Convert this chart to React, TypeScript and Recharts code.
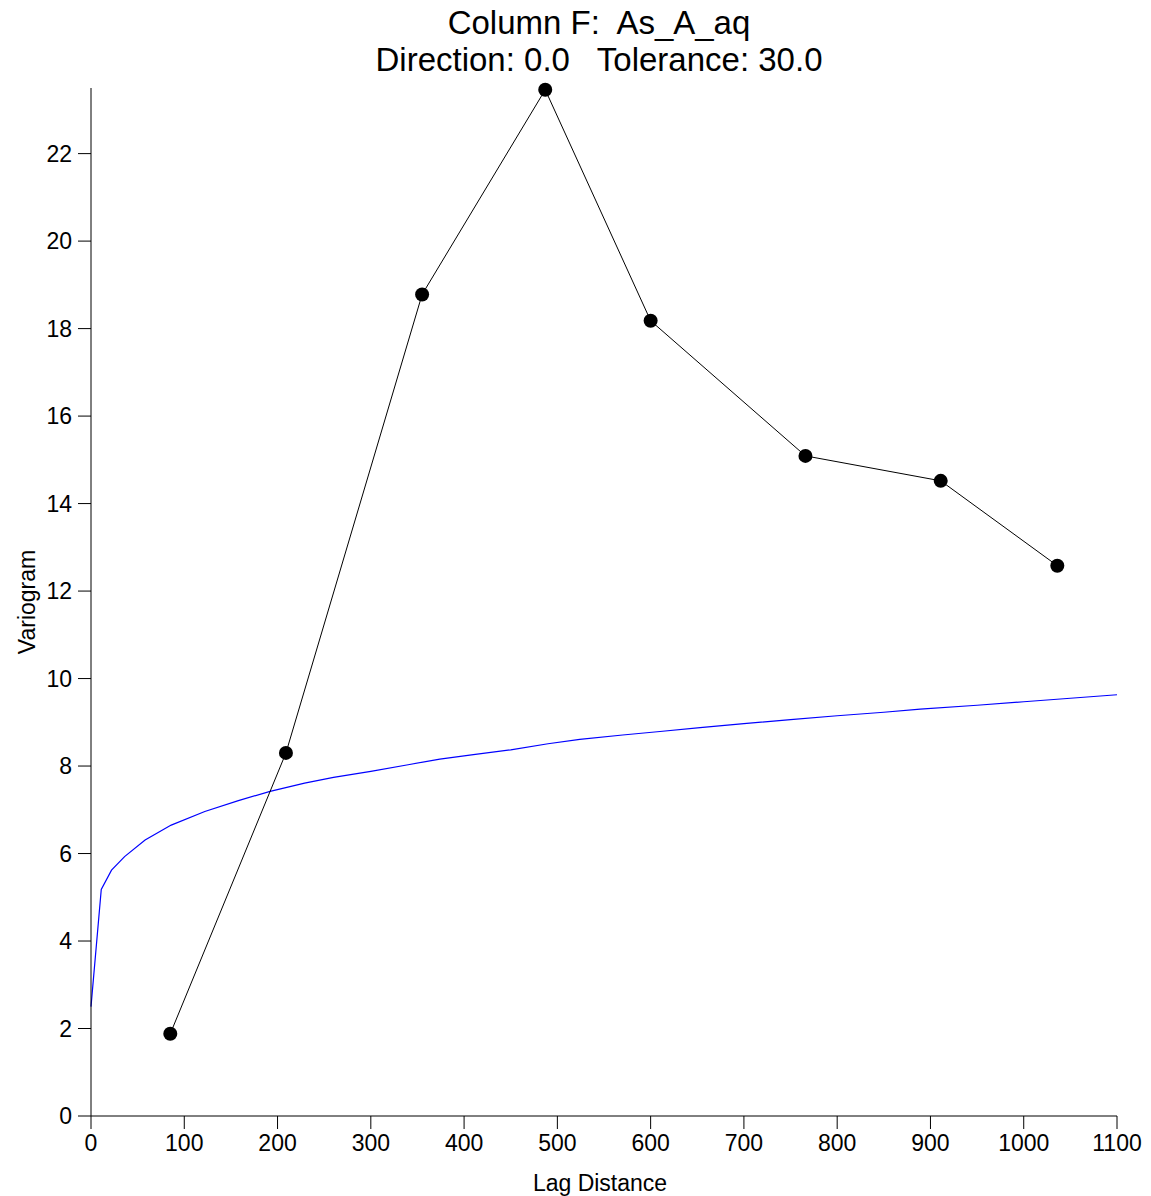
import { ComposedChart, Line, XAxis, YAxis } from "recharts";

const FONT = '"Liberation Sans", Arial, sans-serif';

// experimental variogram (black points)
const lagValues = [85, 209, 355, 487, 600, 766, 911, 1036];
const gammaValues = [1.88, 8.3, 18.78, 23.46, 18.18, 15.09, 14.52, 12.58];

// fitted model (blue curve)
const modelLag = [
  0, 11, 22, 36, 58, 86, 122, 158, 192, 229, 260, 300, 340, 374, 410, 450, 490, 524, 570, 610, 653, 700,
  750, 800, 850, 889, 950, 1000, 1050, 1100,
];
const modelGamma = [
  2.5, 5.18, 5.62, 5.93, 6.31, 6.65, 6.96, 7.21, 7.42, 7.61, 7.74, 7.88, 8.03, 8.16, 8.26, 8.37, 8.51, 8.61,
  8.71, 8.79, 8.88, 8.97, 9.06, 9.15, 9.23, 9.3, 9.39, 9.47, 9.55, 9.63,
];

const xTicks = [0, 100, 200, 300, 400, 500, 600, 700, 800, 900, 1000, 1100];
const yTicks = [0, 2, 4, 6, 8, 10, 12, 14, 16, 18, 20, 22];

const titleLines = ["Column F:  As_A_aq", "Direction: 0.0   Tolerance: 30.0"];

const points = lagValues.map((lag, i) => ({ lag, gamma: gammaValues[i] }));
const model = modelLag.map((lag, i) => ({ lag, gamma: modelGamma[i] }));

const tickStyle = { fill: "#000", fontSize: 23, fontFamily: FONT };

function YLabel(props: any) {
  const { x, y, height } = props.viewBox;
  const cx = x + 27;
  const cy = y + height / 2;
  return (
    <text
      x={cx}
      y={cy}
      transform={`rotate(-90 ${cx} ${cy})`}
      textAnchor="middle"
      dominantBaseline="central"
      fontSize={23}
      fontFamily={FONT}
      fill="#000"
    >
      Variogram
    </text>
  );
}

function XLabel(props: any) {
  const { x, y, width } = props.viewBox;
  return (
    <text x={x + width / 2 - 4} y={y + 75} textAnchor="middle" fontSize={23} fontFamily={FONT} fill="#000">
      Lag Distance
    </text>
  );
}

export default function App() {
  return (
    <div style={{ position: "absolute", left: 0, top: 0, width: 1151, height: 1196, background: "#fff" }}>
      <svg width={1151} height={90} style={{ position: "absolute", left: 0, top: 0 }}>
        {titleLines.map((t, i) => (
          <text
            key={i}
            x={599}
            y={34 + i * 37}
            textAnchor="middle"
            fontSize={33}
            fontFamily={FONT}
            fill="#000"
            style={{ whiteSpace: "pre" }}
          >
            {t}
          </text>
        ))}
      </svg>
      <div style={{ position: "absolute", left: 0, top: 0 }}>
        <ComposedChart width={1151} height={1196} margin={{ top: 88, right: 34, bottom: 0, left: 0 }}>
          <XAxis
            type="number"
            dataKey="lag"
            domain={[0, 1100]}
            ticks={xTicks}
            interval={0}
            height={80}
            tick={tickStyle}
            tickSize={13}
            tickMargin={6}
            stroke="#000"
            label={<XLabel />}
          />
          <YAxis
            type="number"
            dataKey="gamma"
            domain={[0, 23.5]}
            ticks={yTicks}
            interval={0}
            width={91}
            tick={tickStyle}
            tickSize={13}
            tickMargin={6}
            stroke="#000"
            label={<YLabel />}
          />
          <Line
            data={model}
            dataKey="gamma"
            type="linear"
            stroke="#0000ff"
            strokeWidth={1.2}
            dot={false}
            activeDot={false}
            isAnimationActive={false}
          />
          <Line
            data={points}
            dataKey="gamma"
            type="linear"
            stroke="#000"
            strokeWidth={1}
            dot={{ r: 7, fill: "#000", stroke: "#000", strokeWidth: 0 }}
            activeDot={false}
            isAnimationActive={false}
          />
        </ComposedChart>
      </div>
    </div>
  );
}
